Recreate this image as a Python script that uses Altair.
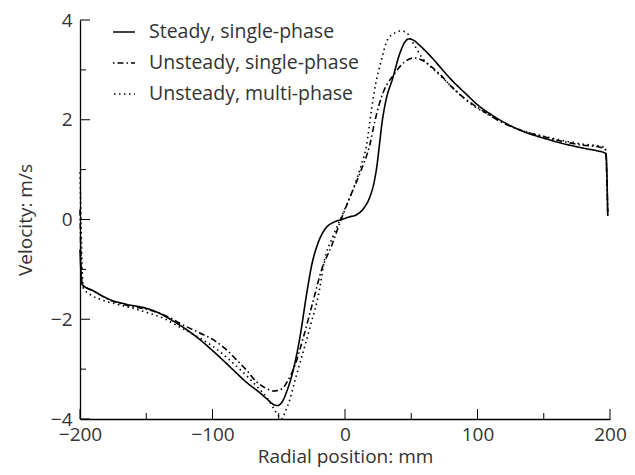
import altair as alt
import pandas as pd

series_names = ["Steady, single-phase", "Unsteady, single-phase", "Unsteady, multi-phase"]

steady_x = [-200, -198.5, -190, -177, -165, -150, -140, -130, -120, -109, -97, -85, -75, -64, -58, -54, -51,
            -48, -44, -39, -34, -29, -25, -21, -15, -9, -2.5, 3, 9, 14, 19, 22, 24, 26, 28, 31, 36, 41, 45,
            48, 52, 56, 64, 72, 80, 92, 100, 110, 122, 135, 150, 165, 182, 190, 197, 198.3]
steady_y = [-0.6, -1.30, -1.43, -1.61, -1.70, -1.78, -1.88, -2.03, -2.20, -2.42, -2.70, -3.00, -3.25, -3.48,
            -3.62, -3.71, -3.73, -3.68, -3.45, -3.01, -2.36, -1.50, -0.90, -0.52, -0.19, -0.06, 0.0, 0.05,
            0.10, 0.22, 0.47, 0.75, 1.06, 1.50, 1.95, 2.40, 2.83, 3.30, 3.55, 3.62, 3.59, 3.50, 3.29, 3.05,
            2.81, 2.50, 2.30, 2.11, 1.92, 1.76, 1.63, 1.52, 1.42, 1.38, 1.32, 0.08]

unsteady_x = [-200, -198.5, -190, -177, -165, -150, -140, -130, -124, -110, -99, -90, -82, -74, -67, -60, -54,
              -51, -46.5, -43, -39, -31.4, -24, -17.6, -10, -3.8, 2.5, 11.3, 18.9, 22.6, 29, 36.5, 45, 52,
              56, 64, 72, 79, 88, 97, 107, 117, 125, 135, 150, 165, 180, 192.5, 196.5, 198.3]
unsteady_y = [0.2, -1.30, -1.43, -1.62, -1.72, -1.80, -1.88, -2.00, -2.09, -2.27, -2.42, -2.60, -2.81, -3.03,
              -3.25, -3.38, -3.44, -3.43, -3.37, -3.22, -3.01, -2.36, -1.63, -1.00, -0.52, -0.06, 0.37, 0.93,
              1.52, 1.98, 2.56, 2.89, 3.16, 3.24, 3.22, 3.09, 2.90, 2.70, 2.48, 2.30, 2.13, 1.97, 1.87, 1.77,
              1.66, 1.56, 1.49, 1.45, 1.40, 0.15]

multi_x = [-200, -197.5, -192.5, -185, -172, -160, -150, -137, -124.5, -112, -99.4, -87, -74, -66, -59, -54,
           -50, -48, -45, -41.5, -38, -34, -26.4, -19, -16, -8.8, -1.3, 5, 12.6, 16, 20, 23, 27, 32, 37, 42,
           46, 50, 54, 58, 64, 72, 79, 88, 97, 107, 117, 125, 135, 150, 165, 180, 192.5, 196.5, 198.3]
multi_y = [0.95, -1.37, -1.50, -1.60, -1.70, -1.78, -1.86, -1.98, -2.16, -2.34, -2.55, -2.82, -3.14, -3.36,
           -3.57, -3.78, -3.95, -4.00, -3.85, -3.60, -3.25, -2.88, -2.16, -1.37, -0.88, -0.32, 0.14, 0.53,
           1.12, 1.45, 2.20, 2.70, 3.15, 3.60, 3.73, 3.78, 3.76, 3.60, 3.42, 3.25, 3.08, 2.88, 2.70, 2.47,
           2.28, 2.12, 1.97, 1.87, 1.77, 1.67, 1.58, 1.51, 1.47, 1.44, 0.07]

x_major = [-200, -100, 0, 100, 200]
x_minor = [-150, -50, 50, 150]
y_major = [-4, -2, 0, 2, 4]
y_minor = [-3, -1, 1, 3]

rows = []
for name, xs, ys in [(series_names[0], steady_x, steady_y),
                     (series_names[1], unsteady_x, unsteady_y),
                     (series_names[2], multi_x, multi_y)]:
    for i, (a, b) in enumerate(zip(xs, ys)):
        rows.append({"series": name, "x": a, "y": b, "order": i})
df = pd.DataFrame(rows)

W, H = 530, 399
FONT = "Open Sans"
TXT = "#333333"
XTITLE = "Radial position: mm"
YTITLE = "Velocity: m/s"
FS = 19

xscale = alt.Scale(domain=[-200, 200], nice=False, zero=False)
yscale = alt.Scale(domain=[-4, 4], nice=False, zero=False)

xaxis = alt.Axis(values=x_major, ticks=False, tickSize=0, grid=False, labelFlush=False,
                 labelPadding=6, domainColor="black", domainWidth=1.3,
                 labelFontSize=FS, titleFontSize=FS, labelFont=FONT, titleFont=FONT,
                 labelColor=TXT, titleColor=TXT, titleFontWeight="normal", titlePadding=3)
yaxis = alt.Axis(values=y_major, ticks=False, tickSize=0, grid=False, labelFlush=False,
                 labelPadding=8, domainColor="black", domainWidth=1.3,
                 labelFontSize=FS, titleFontSize=FS, labelFont=FONT, titleFont=FONT,
                 labelColor=TXT, titleColor=TXT, titleFontWeight="normal", titlePadding=15)

lines = alt.Chart(df).mark_line(color="black", strokeWidth=1.6, interpolate="monotone").encode(
    x=alt.X("x:Q", scale=xscale, title=XTITLE, axis=xaxis),
    y=alt.Y("y:Q", scale=yscale, title=YTITLE, axis=yaxis),
    strokeDash=alt.StrokeDash("series:N",
                              scale=alt.Scale(domain=series_names, range=[[1, 0], [6, 3, 1.5, 3], [1.5, 3.5]]),
                              legend=alt.Legend(title=None, orient="none", legendX=32, legendY=0,
                                                symbolType="stroke", symbolSize=484, symbolStrokeWidth=1.5,
                                                symbolStrokeColor="black", symbolDashOffset=9,
                                                labelFontSize=19.5, labelFont=FONT,
                                                labelColor=TXT, labelOffset=13, rowPadding=9, padding=0,
                                                labelLimit=400)),
    order="order:Q",
    detail="series:N",
)

def tick_layer(vals, axis, length):
    d = pd.DataFrame({"v": vals})
    if axis == "x":
        return alt.Chart(d).mark_rule(color="black", strokeWidth=1).encode(
            x=alt.X("v:Q", scale=xscale, title=XTITLE, axis=xaxis),
            y=alt.value(H), y2=alt.value(H - length))
    return alt.Chart(d).mark_rule(color="black", strokeWidth=1).encode(
        y=alt.Y("v:Q", scale=yscale, title=YTITLE, axis=yaxis),
        x=alt.value(0), x2=alt.value(length))

chart = alt.layer(
    lines,
    tick_layer(x_major, "x", 10), tick_layer(x_minor, "x", 6),
    tick_layer(y_major, "y", 10), tick_layer(y_minor, "y", 6),
).properties(
    width=W, height=H,
    autosize=alt.AutoSizeParams(type="none"),
    padding={"left": 72, "top": 12, "right": 17, "bottom": 48},
).configure(background="white").configure_view(stroke=None)

chart.save("out.html", embed_options={"renderer": "svg", "actions": False})
